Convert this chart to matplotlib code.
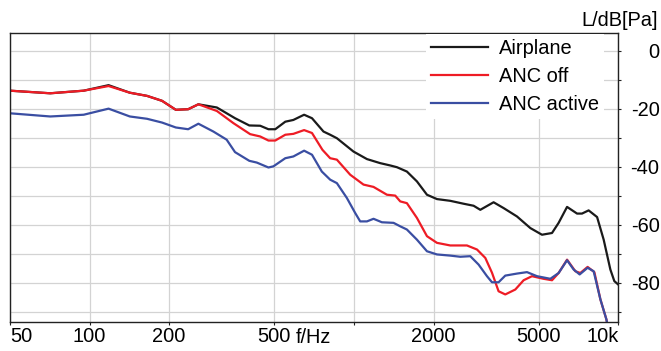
import numpy as np
import matplotlib
matplotlib.use("Agg")
import matplotlib.pyplot as plt

plt.rcParams['font.family'] = ['Liberation Sans', 'DejaVu Sans']
plt.rcParams['axes.unicode_minus'] = False

#%% data (f in Hz, level in dB[Pa])
f_air = [50, 71, 95, 118, 142, 165, 188, 212, 236, 258, 303, 355, 402, 442, 475,
         504, 550, 590, 648, 694, 767, 813, 862, 996, 1120, 1257, 1372, 1454,
         1586, 1731, 1889, 2061, 2314, 2598, 2836, 3006, 3375, 3682, 4138, 4648,
         5144, 5614, 5947, 6400, 6982, 7290, 7723, 8313, 8804, 9332, 9660, 10000]
L_air = [-13.7, -14.6, -13.7, -11.8, -14.4, -15.5, -17.2, -20.3, -20.1, -18.4,
         -19.5, -23.2, -25.7, -25.8, -27.0, -27.0, -24.4, -23.8, -22.0, -23.2,
         -27.8, -28.9, -30.1, -34.7, -37.3, -38.7, -39.5, -40.1, -41.6, -45.0,
         -49.6, -51.1, -51.7, -52.7, -53.4, -54.8, -52.2, -54.2, -57.1, -61.1,
         -63.4, -62.8, -59.3, -53.8, -56.1, -56.1, -55.0, -57.3, -65.1, -75.4,
         -79.4, -80.6]

f_off = [50, 71, 95, 118, 142, 165, 188, 212, 236, 258, 303, 350, 405, 442, 475,
         504, 550, 590, 648, 694, 760, 813, 862, 968, 1087, 1186, 1333, 1433,
         1497, 1586, 1731, 1889, 2061, 2314, 2676, 2921, 3140, 3328, 3525, 3737,
         4078, 4384, 4716, 5216, 5614, 5947, 6400, 6879, 7184, 7654, 8118, 8556,
         9015, 9300]
L_off = [-13.7, -14.6, -13.7, -12.1, -14.4, -15.5, -17.2, -20.3, -20.1, -18.4,
         -20.7, -24.9, -28.7, -29.5, -30.9, -30.9, -28.9, -28.6, -27.3, -28.3,
         -34.1, -37.0, -37.5, -42.7, -46.1, -46.9, -49.6, -49.9, -51.9, -52.5,
         -57.6, -63.9, -66.2, -67.1, -67.1, -68.5, -71.4, -76.5, -82.9, -84.0,
         -82.3, -79.1, -77.7, -78.6, -79.1, -76.6, -72.0, -76.0, -76.6, -74.5,
         -76.3, -85.7, -92.6, -99.0]

f_act = [50, 71, 95, 118, 142, 165, 188, 212, 236, 258, 294, 330, 355, 402, 429,
         475, 496, 550, 590, 648, 694, 756, 813, 862, 940, 1011, 1056, 1120, 1186,
         1276, 1412, 1497, 1586, 1731, 1889, 2061, 2314, 2525, 2755, 2962, 3186,
         3328, 3525, 3737, 4138, 4515, 4926, 5532, 5947, 6400, 6778, 7142, 7654,
         8068, 8556, 9015, 9300]
L_act = [-21.5, -22.6, -22.0, -19.9, -22.6, -23.4, -24.7, -26.4, -27.0, -25.1,
         -27.8, -30.6, -34.9, -37.9, -38.5, -40.2, -39.8, -37.0, -36.4, -34.4,
         -35.8, -41.6, -44.4, -45.6, -50.7, -55.9, -58.8, -58.8, -57.9, -59.1,
         -59.3, -60.5, -61.6, -65.1, -69.1, -70.2, -70.6, -71.0, -70.8, -73.7,
         -77.7, -79.8, -79.8, -77.5, -76.8, -76.3, -77.7, -78.6, -76.6, -72.2,
         -75.4, -77.1, -74.8, -76.0, -85.7, -92.6, -99.0]

xticks = [50, 100, 200, 500, 1000, 2000, 5000, 10000]
xticklabels = ['50', '100', '200', '500', '', '2000', '5000', '10k']
yticks = [0, -20, -40, -60, -80]
yticklabels = ['0', '-20', '-40', '-60', '-80']

#%% plot
fig = plt.figure(figsize=(6.61, 3.51), dpi=100)
ax = fig.add_axes([0.0151, 0.0835, 0.9203, 0.8225])

ax.plot(f_air, L_air, color='#1a1a1a', lw=1.6, label='Airplane')
ax.plot(f_off, L_off, color='#ee1c25', lw=1.6, label='ANC off')
ax.plot(f_act, L_act, color='#3a4ea2', lw=1.6, label='ANC active')

ax.set_xscale('log')
ax.set_xlim(50, 10000)
ax.set_ylim(-93.4, 6.2)

ax.set_xticks(xticks)
ax.set_xticklabels(xticklabels)
ax.xaxis.set_minor_locator(matplotlib.ticker.NullLocator())
ax.set_yticks(np.arange(-90, 1, 10), minor=True)
ax.set_yticks(yticks)
ax.set_yticklabels(yticklabels)

ax.yaxis.tick_right()
ax.tick_params(axis='x', which='both', direction='out', length=2.2, width=0.8,
               color='#222222', labelsize=14.4, pad=1.5)
ax.tick_params(axis='y', which='both', direction='out', length=2.2, width=0.8,
               color='#222222', labelsize=14.4, pad=27.5)
for t in ax.get_yticklabels():
    t.set_horizontalalignment('right')
xl = ax.get_xticklabels()
xl[0].set_horizontalalignment('left')
xl[-1].set_horizontalalignment('right')

ax.grid(True, which='major', axis='x', color='#d3d3d3', lw=0.9)
ax.grid(True, which='both', axis='y', color='#d3d3d3', lw=0.9)
ax.set_axisbelow(True)
for s in ax.spines.values():
    s.set_color('#222222')
    s.set_linewidth(1.0)

ax.text(700, -0.022, 'f/Hz', transform=ax.get_xaxis_transform(),
        ha='center', va='top', fontsize=14.4)
fig.text(658/661, 1 - 20/351, 'L/dB[Pa]', ha='right', va='center', fontsize=14.4)

leg = ax.legend(loc='upper left', bbox_to_anchor=(0.684, 0.995), fontsize=14.4,
                frameon=True, fancybox=False, framealpha=1, edgecolor='none',
                facecolor='white', handlelength=2.85, handletextpad=0.56,
                labelspacing=0.45, borderpad=0.25, borderaxespad=0)

fig.savefig('out.png', dpi=100)
